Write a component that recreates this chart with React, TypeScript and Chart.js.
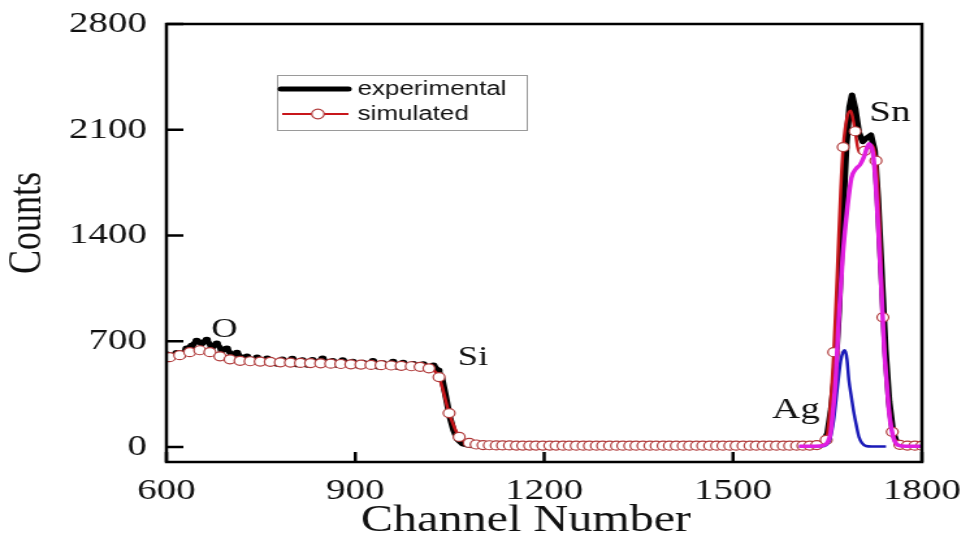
import React, { useEffect, useRef } from 'react';
import { Chart, registerables } from 'chart.js';

Chart.register(...registerables);

// The reference image is horizontally stretched; draw on a narrower canvas and stretch it with CSS.
const W = 970;
const H = 542;
const STRETCH = 1.3;
const CW = Math.round(W / STRETCH);

const SERIF = '"Liberation Serif", "Times New Roman", serif';
const SANS = '"Liberation Sans", Arial, sans-serif';

const xTicks = [600, 900, 1200, 1500, 1800];
const yTicks = [0, 700, 1400, 2100, 2800];
const xTitle = 'Channel Number';
const yTitle = 'Counts';

// experimental spectrum
const expChannels = [
  600, 608, 616, 624, 632, 640, 648, 656, 664, 672, 680, 688, 696, 704, 712, 720, 728, 736, 744, 752,
  760, 768, 776, 784, 792, 800, 808, 816, 824, 832, 840, 848, 856, 864, 872, 880, 888, 896, 904, 912,
  920, 928, 936, 944, 952, 960, 968, 976, 984, 992, 1000, 1008, 1016, 1024, 1032,
  1038, 1044, 1050, 1056, 1062, 1070, 1080, 1100,
  1150, 1200, 1250, 1300, 1350, 1400, 1450, 1500, 1550, 1600,
  1630, 1642, 1650, 1656, 1662, 1668, 1674, 1680, 1685, 1689, 1694, 1700, 1706, 1712, 1719, 1725, 1730,
  1736, 1742, 1748, 1754, 1760, 1768, 1780, 1800,
];
const expCounts = [
  612, 598, 620, 605, 650, 668, 702, 688, 708, 662, 684, 642, 650, 606, 622, 588, 598, 572, 590, 562,
  584, 566, 552, 578, 558, 582, 548, 572, 546, 574, 560, 584, 552, 568, 544, 572, 552, 562, 540, 556,
  544, 568, 534, 552, 540, 562, 530, 556, 534, 548, 528, 546, 524, 538, 505,
  450, 330, 200, 110, 50, 20, 10, 6,
  8, 5, 7, 4, 6, 5, 7, 5, 6, 5,
  8, 25, 90, 250, 480, 900, 1500, 2000, 2250, 2330, 2240, 2080, 2020, 2045, 2065, 1960, 1650,
  1150, 650, 300, 100, 30, 10, 5, 5,
];

// simulated spectrum: points shown with open circles
const simMarkerChannels = [
  605, 621, 637, 653, 669, 685, 701, 717, 733, 749, 765, 781, 797, 813, 829, 845, 861, 877, 893, 909,
  925, 941, 957, 973, 989, 1003, 1017, 1033, 1049, 1065, 1081,
  1092, 1103, 1113, 1124, 1134, 1145, 1156, 1166, 1177, 1187, 1198, 1209, 1219, 1230, 1240, 1251, 1262,
  1272, 1283, 1293, 1304, 1315, 1325, 1336, 1346, 1357, 1368, 1378, 1389, 1399, 1410, 1421, 1431, 1442,
  1452, 1463, 1474, 1484, 1495, 1505, 1516, 1527, 1537, 1548, 1558, 1569, 1580, 1590, 1601, 1611, 1622, 1633,
  1648, 1660, 1675, 1694, 1709, 1727, 1738, 1753, 1765, 1777, 1789, 1800,
];
const simMarkerCounts = [
  594, 607, 627, 640, 627, 600, 580, 570, 567, 565, 563, 560, 558, 556, 555, 553, 551, 549, 547, 545,
  543, 541, 539, 537, 534, 530, 520, 462, 224, 66, 26,
  16, 12, 11, 10, 10, 10, 9, 9, 9, 9, 9, 9, 9, 8, 8, 8, 8,
  8, 8, 8, 8, 8, 8, 8, 8, 8, 8, 8, 8, 8, 8, 8, 8, 8,
  8, 8, 8, 8, 8, 8, 8, 8, 8, 8, 8, 8, 8, 8, 8, 8, 9, 12,
  46, 627, 1985, 2090, 1960, 1895, 858, 100, 14, 9, 8, 8,
];
// simulated spectrum: extra line points without circles
const simLineChannels = [600, 1654, 1666, 1671, 1681, 1687, 1691, 1700, 1718, 1733, 1745, 1760];
const simLineCounts = [590, 250, 1200, 1700, 2180, 2225, 2160, 1950, 2000, 1450, 380, 30];

// Sn component (magenta)
const snChannels = [
  1605, 1630, 1645, 1650, 1655, 1659, 1663, 1668, 1674, 1681, 1688, 1695, 1702, 1708, 1716, 1722, 1726,
  1730, 1735, 1740, 1745, 1748, 1752, 1756, 1762, 1775, 1800,
];
const snCounts = [
  5, 5, 12, 30, 92, 250, 442, 850, 1250, 1560, 1780, 1840, 1870, 1920, 2007, 1950, 1780,
  1500, 1103, 660, 380, 225, 110, 46, 12, 5, 5,
];

// Ag component (blue)
const agChannels = [
  1605, 1640, 1648, 1654, 1660, 1666, 1671, 1675, 1678, 1681, 1684, 1688, 1692, 1696, 1700, 1705, 1711, 1720, 1743,
];
const agCounts = [3, 4, 12, 50, 180, 400, 570, 630, 640, 580, 442, 330, 225, 140, 66, 25, 6, 3, 3];

// element labels, anchored in data units (channel, counts at text baseline)
const elementNames = ['O', 'Si', 'Ag', 'Sn'];
const elementChannels = [692, 1087, 1600, 1749];
const elementCounts = [726, 541, 191, 2159];
const elementFontSizes = [28, 28, 30, 30];

const legendNames = ['experimental', 'simulated'];

const toPoints = (xs: number[], ys: number[]) => xs.map((x, i) => ({ x, y: ys[i] }));

const decorPlugin = {
  id: 'decor',
  afterDraw(chart: any) {
    const { ctx, chartArea: a, scales } = chart;
    const xs = scales.x;
    const ys = scales.y;
    ctx.save();
    ctx.strokeStyle = '#000';
    ctx.lineWidth = 2.5;
    ctx.strokeRect(a.left, a.top, a.right - a.left, a.bottom - a.top);
    ctx.beginPath();
    for (const v of yTicks) {
      const py = ys.getPixelForValue(v);
      ctx.moveTo(a.left, py);
      ctx.lineTo(a.left + 13, py);
    }
    for (const v of xTicks) {
      const px = xs.getPixelForValue(v);
      ctx.moveTo(px, a.bottom);
      ctx.lineTo(px, a.bottom - 10);
    }
    ctx.stroke();

    // axis titles
    ctx.fillStyle = '#111';
    ctx.textAlign = 'center';
    ctx.textBaseline = 'middle';
    ctx.font = `37px ${SERIF}`;
    ctx.fillText(xTitle, 404.5, 521);
    ctx.save();
    ctx.translate(21.5, 223);
    ctx.rotate(-Math.PI / 2);
    ctx.font = `36px ${SERIF}`;
    ctx.fillText(yTitle, 0, 0);
    ctx.restore();

    // element labels
    ctx.textAlign = 'center';
    ctx.textBaseline = 'alphabetic';
    elementNames.forEach((name, i) => {
      ctx.font = `${elementFontSizes[i]}px ${SERIF}`;
      ctx.fillText(name, xs.getPixelForValue(elementChannels[i]), ys.getPixelForValue(elementCounts[i]));
    });

    // legend box
    const bx = 213, by = 75, bw = 192, bh = 55;
    ctx.fillStyle = '#fff';
    ctx.fillRect(bx, by, bw, bh);
    ctx.strokeStyle = '#9a9a9a';
    ctx.lineWidth = 1;
    ctx.strokeRect(bx + 0.5, by + 0.5, bw, bh);

    ctx.lineCap = 'round';
    ctx.strokeStyle = '#000';
    ctx.lineWidth = 5;
    ctx.beginPath();
    ctx.moveTo(216, 89);
    ctx.lineTo(268, 89);
    ctx.stroke();

    ctx.lineCap = 'butt';
    ctx.strokeStyle = '#c8161b';
    ctx.lineWidth = 2;
    ctx.beginPath();
    ctx.moveTo(217, 114);
    ctx.lineTo(268, 114);
    ctx.stroke();
    ctx.beginPath();
    ctx.arc(244.5, 114, 4.8, 0, Math.PI * 2);
    ctx.fillStyle = '#fff';
    ctx.fill();
    ctx.strokeStyle = '#b03a3a';
    ctx.lineWidth = 1.2;
    ctx.stroke();

    ctx.fillStyle = '#111';
    ctx.textAlign = 'left';
    ctx.textBaseline = 'middle';
    ctx.font = `20px ${SANS}`;
    ctx.fillText(legendNames[0], 275, 89);
    ctx.fillText(legendNames[1], 275, 114);
    ctx.restore();
  },
};

export default function App() {
  const ref = useRef<HTMLCanvasElement>(null);

  useEffect(() => {
    const canvas = ref.current;
    if (!canvas) return;
    const simLine = toPoints(
      simMarkerChannels.concat(simLineChannels),
      simMarkerCounts.concat(simLineCounts)
    ).sort((p, q) => p.x - q.x);

    const chart = new Chart(canvas, {
      type: 'scatter',
      data: {
        datasets: [
          {
            label: 'experimental',
            data: toPoints(expChannels, expCounts),
            showLine: true,
            borderColor: '#000',
            backgroundColor: '#000',
            borderWidth: 5,
            borderJoinStyle: 'round',
            borderCapStyle: 'round',
            pointRadius: expChannels.map((c) => (c <= 1032 ? 3.2 : 0)),
            pointBorderWidth: 0,
            pointBackgroundColor: '#000',
            order: 5,
          },
          {
            label: 'simulated',
            data: simLine,
            showLine: true,
            borderColor: '#c8161b',
            borderWidth: 2.5,
            pointRadius: 0,
            cubicInterpolationMode: 'monotone',
            order: 4,
          },
          {
            label: 'simulated markers',
            data: toPoints(simMarkerChannels, simMarkerCounts),
            showLine: false,
            pointRadius: 4.5,
            pointBackgroundColor: '#fff',
            pointBorderColor: '#b03a3a',
            pointBorderWidth: 1.2,
            order: 3,
          },
          {
            label: 'Ag',
            data: toPoints(agChannels, agCounts),
            showLine: true,
            borderColor: '#1a1ab8',
            borderWidth: 2.5,
            pointRadius: 0,
            cubicInterpolationMode: 'monotone',
            order: 2,
          },
          {
            label: 'Sn',
            data: toPoints(snChannels, snCounts),
            showLine: true,
            borderColor: '#e01ee0',
            borderWidth: 3.5,
            pointRadius: 0,
            cubicInterpolationMode: 'monotone',
            order: 1,
          },
        ],
      },
      options: {
        responsive: false,
        animation: false,
        devicePixelRatio: 1,
        events: [],
        layout: { padding: { left: 0, right: CW - 709, top: 24, bottom: 0 } },
        plugins: {
          legend: { display: false },
          tooltip: { enabled: false },
        },
        scales: {
          x: {
            type: 'linear',
            min: 600,
            max: 1800,
            afterBuildTicks: (s: any) => {
              s.ticks = xTicks.map((v) => ({ value: v }));
            },
            afterFit: (s: any) => {
              s.height = H - 462;
              s.paddingLeft = 0;
              s.paddingRight = 0;
            },
            grid: { display: false, drawTicks: false },
            border: { display: false },
            ticks: {
              autoSkip: false,
              maxRotation: 0,
              padding: 11,
              color: '#111',
              font: { family: SERIF, size: 30 },
              callback: (v: any) => String(v),
            },
          },
          y: {
            type: 'linear',
            min: -100,
            max: 2800,
            afterBuildTicks: (s: any) => {
              s.ticks = yTicks.map((v) => ({ value: v }));
            },
            afterFit: (s: any) => {
              s.width = 128;
              s.paddingTop = 0;
              s.paddingBottom = 0;
            },
            grid: { display: false, drawTicks: false },
            border: { display: false },
            ticks: {
              autoSkip: false,
              padding: 15,
              color: '#111',
              font: { family: SERIF, size: 30 },
              callback: (v: any) => String(v),
            },
          },
        },
      } as any,
      plugins: [decorPlugin],
    });
    return () => chart.destroy();
  }, []);

  return (
    <div style={{ position: 'absolute', left: 0, top: 0, width: W, height: H, background: '#fff' }}>
      <canvas
        ref={ref}
        width={CW}
        height={H}
        style={{ width: `${W}px`, height: `${H}px`, display: 'block' }}
      />
    </div>
  );
}
